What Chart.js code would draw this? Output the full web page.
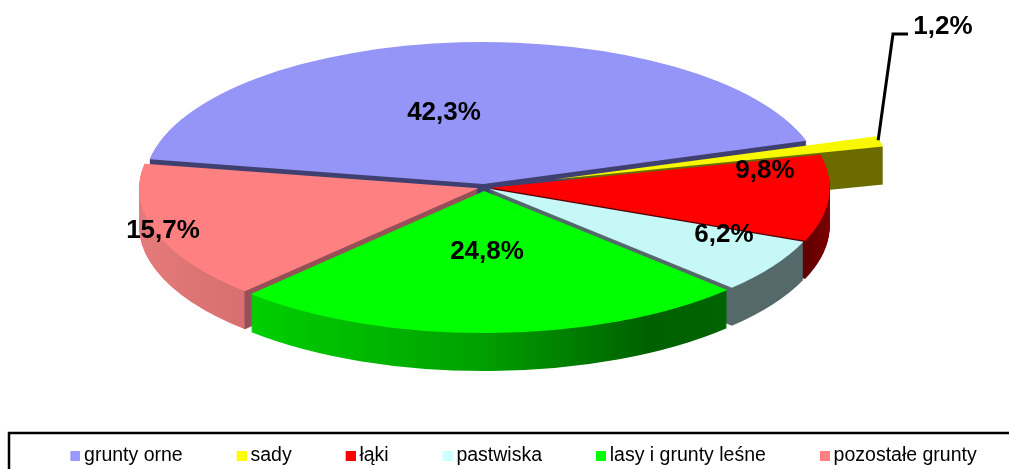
<!DOCTYPE html>
<html><head><meta charset="utf-8">
<style>html,body{margin:0;padding:0;background:#fff;overflow:hidden}canvas{display:block}</style>
<script src="https://cdn.jsdelivr.net/npm/chart.js@4"></script>
</head><body>
<div style="width:1009px;height:469px;position:relative"><canvas id="c"></canvas></div>
<script>
const categories = ['grunty orne','sady','łąki','pastwiska','lasy i grunty leśne','pozostałe grunty'];
const values = [42.3,1.2,9.8,6.2,24.8,15.7];
const topColors = ['#9595f8','#f8f800','#ff0000','#c6f8f8','#00ff00','#ff8080'];
const legendColors = ['#9999ff','#ffff00','#ff0000','#ccffff','#00ff00','#ff8080'];
// how far each slice is pulled out, as a share of the radius
const pull = [0.025,0.212,0.02,0.017,0.025,0.018];
// side-wall colours as [screen x, colour] stops
const sideStops = [
  [[0,'#3f3f70'],[1009,'#3f3f70']],
  [[0,'#6b6b00'],[1009,'#6b6b00']],
  [[790,'#500000'],[830,'#7a0000']],
  [[0,'#55696b'],[1009,'#55696b']],
  [[250,'#00d000'],[480,'#00a000'],[650,'#006000'],[730,'#006400']],
  [[139,'#e47a7a'],[244,'#d87070'],[245,'#965058'],[480,'#965058']]
];
const paintOrder = [0,1,5,2,3,4];
const labelSpots = [[444,113],null,[765,171],[724,235],[487,252],[163,231]];
const view = {cx:484,cy:187.5,rx:339,ry:142,depth:38};
const fmt = v => v.toFixed(1).replace('.',',')+'%';
const MARK_BOX = 40;

function marker(color){
  const m=document.createElement('canvas');m.width=MARK_BOX+12;m.height=10;
  const g=m.getContext('2d');g.fillStyle=color;g.fillRect(MARK_BOX+2,0,10,10);return m;
}
const pie3d = {
  id:'pie3d',
  afterLayout(chart){
    const l=chart.legend, h=l.bottom-l.top;
    l.top=428; l.bottom=l.top+h;
  },
  beforeDraw(chart){
    const c=chart.ctx;
    c.save();c.fillStyle='#fff';c.fillRect(0,0,1009,469);
    c.strokeStyle='#000';c.lineWidth=2.5;c.strokeRect(9,433,1100,100);c.restore();
  },
  beforeDatasetsDraw(chart){
    const c=chart.ctx, arcs=chart.getDatasetMeta(0).data;
    const a0=arcs[0], r=a0.outerRadius, sx=view.rx/r, sy=view.ry/r;
    const apply=(dy,i)=>{
      const mid=(arcs[i].startAngle+arcs[i].endAngle)/2;
      c.translate(view.cx,view.cy+dy);c.scale(sx,sy);
      c.translate(Math.cos(mid)*pull[i]*r,Math.sin(mid)*pull[i]*r);
      c.translate(-a0.x,-a0.y);
    };
    const localX=X=>a0.x+(X-view.cx)/sx;
    for(const i of paintOrder){
      const arc=arcs[i], orig=arc.options;
      const mid=(arc.startAngle+arc.endAngle)/2;
      const shift=Math.cos(mid)*pull[i]*r;
      const g=c.createLinearGradient(localX(0)-shift,0,localX(1009)-shift,0);
      sideStops[i].forEach(([x,col])=>g.addColorStop(x/1009,col));
      arc.options={...orig,backgroundColor:g,borderWidth:0};
      for(let dy=view.depth;dy>=1;dy--){c.save();apply(dy,i);arc.draw(c);c.restore();}
      arc.options=orig;
      c.save();apply(0,i);arc.draw(c);c.restore();
    }
    // leader line from the pulled-out slice to its label
    const s=arcs[1], smid=(s.startAngle+s.endAngle)/2;
    const tip=[view.cx+(Math.cos(s.startAngle)+Math.cos(smid)*pull[1])*view.rx,
               view.cy+(Math.sin(s.startAngle)+Math.sin(smid)*pull[1])*view.ry];
    c.save();c.strokeStyle='#000';c.lineWidth=3;c.beginPath();
    c.moveTo(tip[0]+2,tip[1]+4);c.lineTo(893,34);c.lineTo(908,34);c.stroke();
    c.fillStyle='#000';c.font='bold 26px "Liberation Sans"';c.textAlign='center';c.textBaseline='middle';
    values.forEach((v,i)=>{const p=labelSpots[i];if(p)c.fillText(fmt(v),p[0],p[1]);});
    c.fillText(fmt(values[1]),943,27);
    c.restore();
    return false;
  }
};
new Chart(document.getElementById('c'),{
  type:'pie',
  data:{labels:categories,datasets:[{data:values,backgroundColor:topColors,borderWidth:0}]},
  options:{
    responsive:true,maintainAspectRatio:false,animation:false,rotation:-80,
    layout:{padding:{left:2}},
    plugins:{
      tooltip:{enabled:false},
      legend:{position:'bottom',labels:{
        usePointStyle:true,pointStyleWidth:MARK_BOX,boxWidth:MARK_BOX,boxHeight:10,padding:18,color:'#000',
        font:{family:'"Liberation Sans"',size:19.5},
        generateLabels:()=>categories.map((t,i)=>({text:t,pointStyle:marker(legendColors[i]),fontColor:'#000',hidden:false,index:i}))
      }}
    }
  },
  plugins:[pie3d]
});
</script>
</body></html>
